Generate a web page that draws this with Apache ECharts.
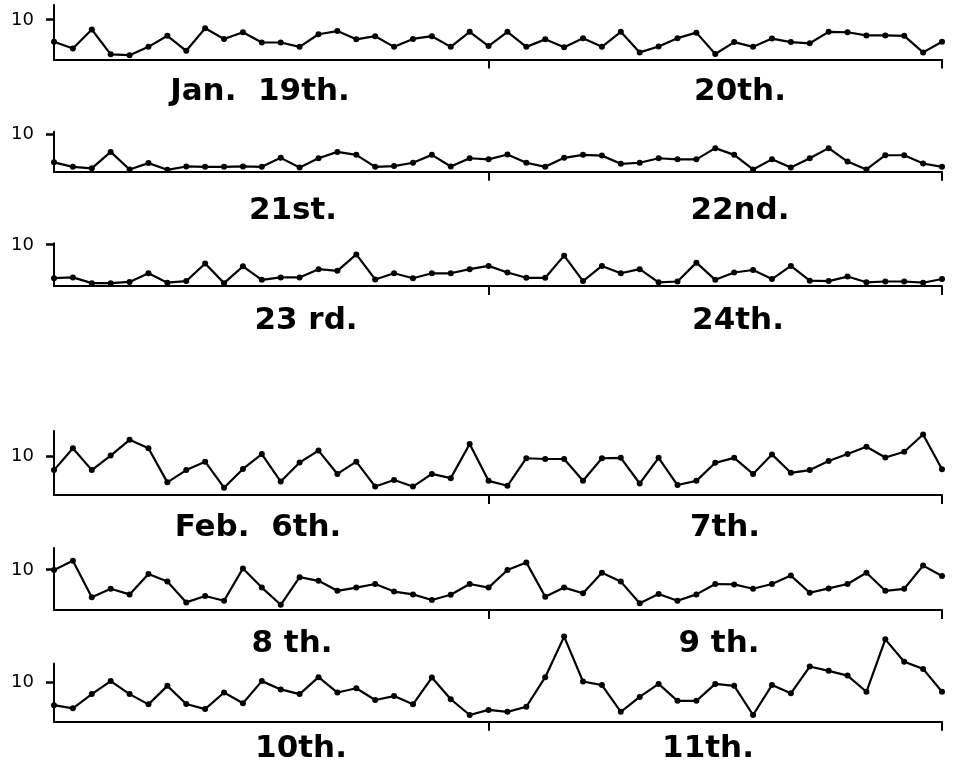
<!DOCTYPE html>
<html>
<head>
<meta charset="utf-8">
<script src="https://cdn.jsdelivr.net/npm/echarts@6/dist/echarts.min.js"></script>
<style>
  html, body { margin: 0; padding: 0; background: #fff; }
  #container { width: 954px; height: 769px; }
</style>
</head>
<body>
<div id="container"></div>
<script>
// hourly values, two days per panel (48 points each)
var hours = [];
for (var h = 1; h <= 48; h++) hours.push(h);

var jan19_20 = [4.5, 2.8, 7.6, 1.3, 1.1, 3.2, 6.0, 2.2, 7.9, 5.2, 6.9, 4.3, 4.3, 3.2, 6.4, 7.2, 5.1, 5.9, 3.2, 5.2, 5.9, 3.2, 7.0, 3.4,
                7.0, 3.2, 5.1, 3.1, 5.4, 3.2, 7.0, 1.8, 3.3, 5.4, 6.8, 1.4, 4.4, 3.2, 5.3, 4.4, 4.1, 7.0, 6.9, 6.1, 6.1, 6.0, 1.8, 4.5];
var jan21_22 = [2.5, 1.3, 0.9, 5.3, 0.6, 2.3, 0.5, 1.4, 1.3, 1.3, 1.4, 1.3, 3.7, 1.1, 3.6, 5.3, 4.5, 1.3, 1.5, 2.4, 4.5, 1.4, 3.6, 3.3,
                4.6, 2.4, 1.3, 3.7, 4.5, 4.3, 2.1, 2.4, 3.6, 3.3, 3.3, 6.3, 4.5, 0.6, 3.3, 1.1, 3.6, 6.3, 2.7, 0.6, 4.4, 4.4, 2.2, 1.3];
var jan23_24 = [1.9, 2.1, 0.7, 0.7, 1.0, 3.1, 0.8, 1.2, 5.5, 0.7, 4.8, 1.5, 2.1, 2.1, 4.1, 3.7, 7.7, 1.6, 3.1, 1.9, 3.1, 3.1, 4.1, 4.9,
                3.3, 2.0, 2.0, 7.4, 1.2, 4.9, 3.1, 4.1, 0.9, 1.1, 5.7, 1.5, 3.3, 3.9, 1.7, 4.9, 1.3, 1.2, 2.3, 0.9, 1.1, 1.1, 0.8, 1.7];
var feb6_7 = [6.5, 12.2, 6.5, 10.3, 14.4, 12.2, 3.3, 6.5, 8.7, 1.9, 6.8, 10.7, 3.5, 8.5, 11.6, 5.5, 8.7, 2.2, 3.9, 2.2, 5.5, 4.4, 13.3, 3.7,
              2.4, 9.6, 9.4, 9.4, 3.7, 9.6, 9.7, 3.0, 9.7, 2.6, 3.7, 8.4, 9.7, 5.5, 10.6, 5.8, 6.5, 8.9, 10.7, 12.6, 9.8, 11.3, 15.8, 6.7];
var feb8_9 = [10.0, 12.3, 3.2, 5.3, 3.9, 9.0, 7.1, 1.9, 3.5, 2.3, 10.4, 5.6, 1.3, 8.2, 7.3, 4.8, 5.6, 6.5, 4.6, 3.9, 2.5, 3.8, 6.5, 5.6,
              10.0, 11.9, 3.3, 5.6, 4.2, 9.3, 7.1, 1.7, 4.0, 2.3, 3.9, 6.5, 6.4, 5.3, 6.5, 8.6, 4.3, 5.4, 6.5, 9.3, 4.8, 5.3, 11.1, 8.5];
var feb10_11 = [4.2, 3.4, 7.0, 10.3, 7.0, 4.4, 9.1, 4.5, 3.2, 7.4, 4.7, 10.3, 8.2, 7.0, 11.3, 7.4, 8.5, 5.5, 6.5, 4.4, 11.2, 5.7, 1.7, 3.0,
                2.5, 3.8, 11.3, 21.6, 10.2, 9.3, 2.5, 6.3, 9.6, 5.3, 5.3, 9.6, 9.1, 1.7, 9.3, 7.2, 14.0, 12.9, 11.7, 7.6, 20.9, 15.2, 13.4, 7.6];

var panelData = [jan19_20, jan21_22, jan23_24, feb6_7, feb8_9, feb10_11];
var dayLabels = [
  ['Jan.  19th.', '20th.'],
  ['21st.', '22nd.'],
  ['23 rd.', '24th.'],
  ['Feb.  6th.', '7th.'],
  ['8 th.', '9 th.'],
  ['10th.', '11th.']
];
var yTick = 10;

// layout of each strip: baseline y, pixels per unit, axis top value
var baselines = [59.5, 171.7, 286, 495, 610, 721.7];
var pxPerUnit = [3.95, 3.74, 4.1, 3.83, 4.0, 3.94];
var axisMax = [13.8, 10.7, 10.4, 16.7, 15.5, 14.8];
var labelY = [92, 211, 321, 528, 644, 749];
var labelX = [[260, 740], [293, 740], [306, 738], [258, 725], [292, 719], [301, 708]];

var dom = document.getElementById("container");
var myChart = echarts.init(dom);

var grids = [], xAxes = [], yAxes = [], series = [], texts = [];
var n = panelData.length;
for (var i = 0; i < n; i++) {
	var gridTop = baselines[i] - axisMax[i] * pxPerUnit[i];
	grids.push({
		left : 54,
		width : 888,
		top : gridTop,
		height : baselines[i] - gridTop
	});
	xAxes.push({
		type : 'category',
		gridIndex : i,
		data : hours,
		boundaryGap : false,
		axisLine : { lineStyle : { color : '#000', width : 2 } },
		axisTick : {
			interval : function(idx) { return idx === 23 || idx === 47; },
			length : 9,
			lineStyle : { color : '#000', width : 2 }
		},
		axisLabel : { show : false },
		splitLine : { show : false }
	});
	yAxes.push({
		type : 'value',
		gridIndex : i,
		min : 0,
		max : axisMax[i],
		axisLine : { show : true, lineStyle : { color : '#000', width : 2 } },
		axisTick : { show : false },
		axisLabel : { show : false },
		splitLine : { show : false }
	});
	series.push({
		type : 'line',
		xAxisIndex : i,
		yAxisIndex : i,
		data : panelData[i],
		clip : false,
		symbol : 'circle',
		symbolSize : 6,
		itemStyle : { color : '#000' },
		lineStyle : { color : '#000', width : 2.2 },
		animation : false
	});
	for (var k = 0; k < 2; k++) {
		texts.push({
			type : 'text',
			x : labelX[i][k],
			y : labelY[i],
			style : {
				text : dayLabels[i][k],
				fill : '#000',
				font : 'bold 31px "DejaVu Sans"',
				textAlign : 'center',
				textVerticalAlign : 'middle'
			}
		});
	}
}

// thin helper strips that carry only the "10" tick and label of each panel
for (var j = 0; j < n; j++) {
	var tickY = baselines[j] - yTick * pxPerUnit[j];
	grids.push({
		left : 54,
		width : 888,
		top : tickY - 1,
		height : 1
	});
	xAxes.push({
		type : 'value',
		gridIndex : n + j,
		min : 0,
		max : 1,
		show : false
	});
	yAxes.push({
		type : 'value',
		gridIndex : n + j,
		min : yTick,
		max : yTick + 0.1,
		interval : 0.1,
		axisLine : { show : false },
		axisTick : { show : true, length : 8, lineStyle : { color : '#000', width : 1.5 } },
		axisLabel : {
			margin : 20,
			color : '#000',
			fontSize : 18,
			fontFamily : 'DejaVu Sans',
			formatter : function(v) { return v === yTick ? String(yTick) : ''; }
		},
		splitLine : { show : false }
	});
}

var option = {
	backgroundColor : '#fff',
	animation : false,
	grid : grids,
	xAxis : xAxes,
	yAxis : yAxes,
	series : series,
	graphic : texts
};
myChart.setOption(option, true);
</script>
</body>
</html>
